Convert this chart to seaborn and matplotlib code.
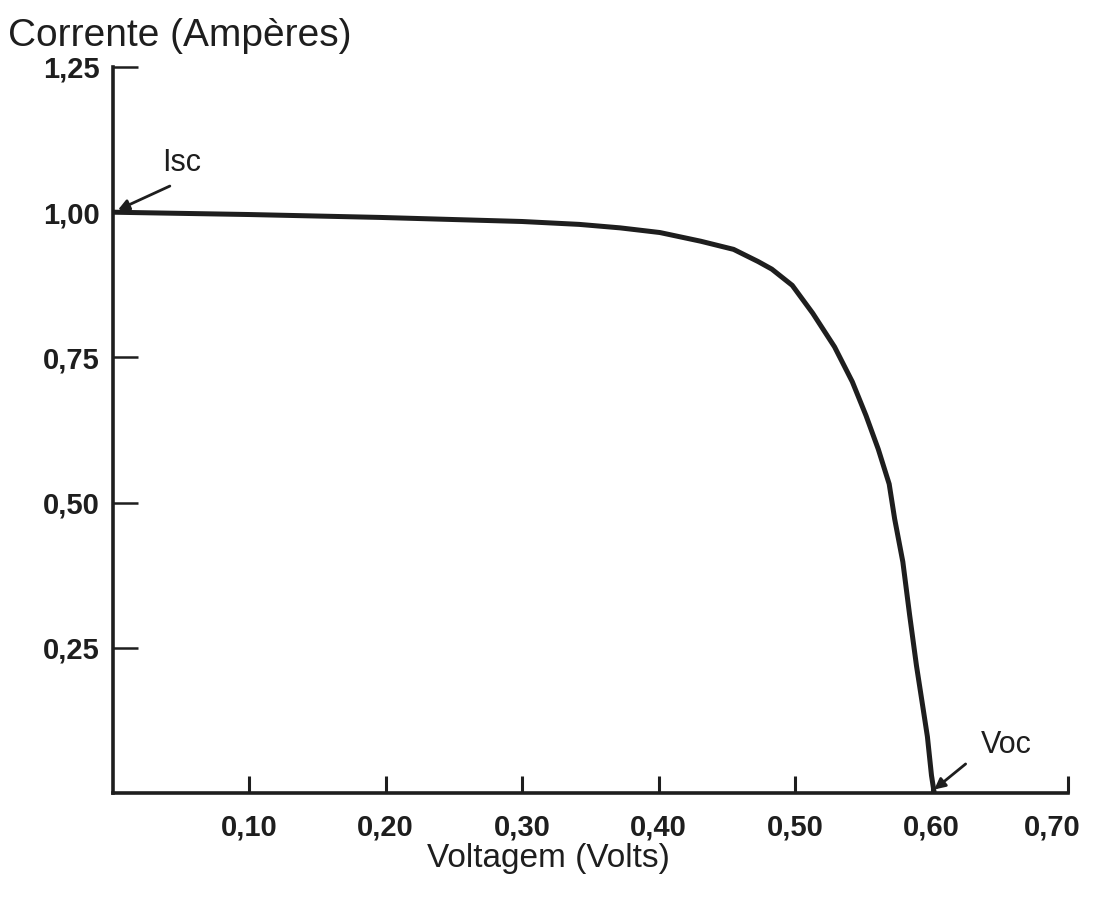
import matplotlib
matplotlib.use("Agg")
import matplotlib.pyplot as plt
import matplotlib.transforms as mtransforms
import seaborn as sns
import pandas as pd

# ---- data (I-V curve of a solar cell) ----
voltage = [0.000, 0.100, 0.196, 0.300, 0.342, 0.372, 0.401, 0.431, 0.455, 0.473,
           0.483, 0.498, 0.513, 0.529, 0.542, 0.552, 0.561, 0.569, 0.573, 0.579,
           0.584, 0.589, 0.594, 0.597, 0.600, 0.602]
current = [1.000, 0.996, 0.991, 0.984, 0.979, 0.973, 0.965, 0.950, 0.936, 0.915,
           0.902, 0.874, 0.826, 0.768, 0.708, 0.650, 0.592, 0.532, 0.472, 0.398,
           0.306, 0.219, 0.143, 0.097, 0.030, 0.000]

x_ticks = [0.10, 0.20, 0.30, 0.40, 0.50, 0.60, 0.70]
x_tick_labels = ["0,10", "0,20", "0,30", "0,40", "0,50", "0,60", "0,70"]
y_ticks = [0.25, 0.50, 0.75, 1.00, 1.25]
y_tick_labels = ["0,25", "0,50", "0,75", "1,00", "1,25"]

x_label = "Voltagem (Volts)"
y_label = "Corrente (Ampères)"
isc_label = "Isc"
voc_label = "Voc"

df = pd.DataFrame({"V": voltage, "I": current})

sns.set_theme(style="white")
plt.rcParams["font.family"] = ["Liberation Sans", "DejaVu Sans"]

W, H = 1093, 901
fig = plt.figure(figsize=(W / 100, H / 100), dpi=100)
fig.patch.set_facecolor("white")

left_px, right_px, bottom_px, top_px = 112.5, 1068, 793, 67
ax = fig.add_axes([left_px / W, 1 - bottom_px / H,
                   (right_px - left_px) / W, (bottom_px - top_px) / H])
ax.set_facecolor("white")

ink = "#1e1e1e"
sns.lineplot(data=df, x="V", y="I", sort=False, estimator=None, ax=ax,
             color=ink, linewidth=3.6, solid_joinstyle="round", solid_capstyle="round")

ax.set_xlim(0, 0.70)
ax.set_ylim(0, 1.25)

for side in ("top", "right"):
    ax.spines[side].set_visible(False)
for side in ("left", "bottom"):
    ax.spines[side].set_color(ink)
    ax.spines[side].set_linewidth(2.6)
    ax.spines[side].set_zorder(5)

ax.set_xticks(x_ticks)
ax.set_xticklabels(x_tick_labels, fontsize=21, fontweight="bold", color=ink)
ax.set_yticks(y_ticks)
ax.set_yticklabels(y_tick_labels, fontsize=21, fontweight="bold", color=ink)
ax.tick_params(axis="x", bottom=True, direction="in", length=12, width=2.2,
               color=ink, pad=15)
ax.tick_params(axis="y", left=True, direction="in", length=18, width=1.8,
               color=ink, pad=9)

# the last x label sits slightly left of its tick in the reference
last = ax.get_xticklabels()[-1]
last.set_transform(last.get_transform() +
                   mtransforms.ScaledTranslation(-16 / 100, 0, fig.dpi_scale_trans))

ax.set_xlabel(x_label, fontsize=24, color=ink)
ax.xaxis.set_label_coords((548 - left_px) / (right_px - left_px),
                          -(858 - bottom_px) / (bottom_px - top_px))
ax.xaxis.label.set_va("center")
ax.set_ylabel("")

fig.text(8 / W, 1 - 36 / H, y_label, fontsize=28, color=ink, ha="left", va="center")

arrow = dict(arrowstyle="-|>", color=ink, lw=2.0, mutation_scale=16,
             shrinkA=0, shrinkB=0)
ax.annotate("", xy=(0.004, 1.004), xytext=(0.042, 1.045), arrowprops=arrow)
ax.text(0.036, 1.085, isc_label, fontsize=22, color=ink, ha="left", va="center")

ax.annotate("", xy=(0.602, 0.006), xytext=(0.625, 0.050), arrowprops=arrow)
ax.text(0.636, 0.082, voc_label, fontsize=22, color=ink, ha="left", va="center")

fig.savefig("out.png", dpi=100, facecolor="white")
